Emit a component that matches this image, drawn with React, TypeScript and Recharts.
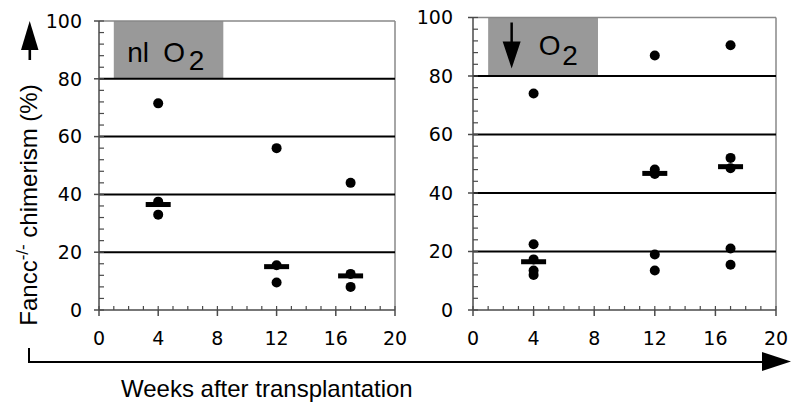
import React from 'react';
import { ScatterChart, Scatter, XAxis, YAxis, ReferenceLine, ReferenceArea } from 'recharts';

// axis ticks
const weekTicks = [0, 4, 8, 12, 16, 20];
const weekMinorTicks = [0, 1, 2, 3, 4, 5, 6, 7, 8, 9, 10, 11, 12, 13, 14, 15, 16, 17, 18, 19, 20];
const chimerismTicks = [0, 20, 40, 60, 80, 100];
const chimerismMinorTicks = [0, 4, 8, 12, 16, 20, 24, 28, 32, 36, 40, 44, 48, 52, 56, 60, 64, 68, 72, 76, 80, 84, 88, 92, 96, 100];
const gridLevels = [20, 40, 60, 80];

// time points where the medians are drawn
const medianWeeks = [4, 12, 17];

// normal oxygen
const normalWeeks = [4, 4, 4, 12, 12, 12, 17, 17, 17];
const normalChimerism = [71.5, 37.5, 33, 56, 15.5, 9.5, 44, 12.5, 8];
const normalMedian = [36.5, 15, 11.8];

// low oxygen
const lowWeeks = [4, 4, 4, 4, 4, 12, 12, 12, 12, 12, 17, 17, 17, 17, 17];
const lowChimerism = [74, 22.5, 17.3, 13.5, 12, 87, 48, 46.5, 19, 13.5, 90.5, 52, 48.5, 21, 15.5];
const lowMedian = [16.5, 46.7, 49];

const toPoints = (xs: number[], ys: number[]) => xs.map((x, i) => ({ week: x, value: ys[i] }));

const Dot = (p: any) => <circle cx={p.cx} cy={p.cy} r={5} fill="#000" />;
const MedianBar = (p: any) => <rect x={p.cx - 12.5} y={p.cy - 2.5} width={25} height={5} fill="#000" />;

const labelFont = '"Liberation Sans", Arial, sans-serif';
const tickStyle = { fontFamily: '"DejaVu Sans", Verdana, sans-serif', fontSize: '19px' };
const axisColor = '#4a4a4a';

// minor tick inward on every tick, major tick outward + label on the labelled ones
const WeekTick = ({ x, y, payload }: any) => {
  const major = weekTicks.includes(payload.value);
  return (
    <g>
      <line x1={x} y1={y} x2={x} y2={y - 4} stroke={axisColor} strokeWidth={1.2} />
      {major && <line x1={x} y1={y} x2={x} y2={y + 6} stroke={axisColor} strokeWidth={1.5} />}
      {major && (
        <text x={x} y={y + 35} textAnchor="middle" style={tickStyle} fill="#000">
          {payload.value}
        </text>
      )}
    </g>
  );
};

const makeChimerismTick = (gap: number) => ({ x, y, payload }: any) => {
  const major = chimerismTicks.includes(payload.value);
  return (
    <g>
      <line x1={x} y1={y} x2={x + 5} y2={y} stroke={axisColor} strokeWidth={1.2} />
      {major && <line x1={x} y1={y} x2={x - 5} y2={y} stroke={axisColor} strokeWidth={1.5} />}
      {major && (
        <text x={x - gap} y={y + 6.8} textAnchor="end" style={tickStyle} fill="#000">
          {payload.value}
        </text>
      )}
    </g>
  );
};

const NormalLabel = ({ viewBox }: any) => (
  <text x={viewBox.x + 13.5} y={viewBox.y + 40.7} style={{ fontFamily: labelFont, fontSize: '28px' }} fill="#000">
    nl
    <tspan x={viewBox.x + 49.5}>O</tspan>
    <tspan x={viewBox.x + 75} dy={8.3}>2</tspan>
  </text>
);

const LowLabel = ({ viewBox }: any) => {
  const x = viewBox.x;
  const y = viewBox.y;
  return (
    <g>
      <line x1={x + 23.5} y1={y + 5} x2={x + 23.5} y2={y + 28} stroke="#000" strokeWidth={2.5} />
      <polygon points={`${x + 14.5},${y + 24} ${x + 32.5},${y + 24} ${x + 23.5},${y + 51}`} fill="#000" />
      <text x={x + 50.5} y={y + 37.5} style={{ fontFamily: labelFont, fontSize: '28px' }} fill="#000">
        O
        <tspan x={x + 74} dy={10}>2</tspan>
      </text>
    </g>
  );
};

type PanelProps = {
  left: number;
  width: number;
  margin: { top: number; right: number; bottom: number; left: number };
  points: { week: number; value: number }[];
  medians: { week: number; value: number }[];
  boxEnd: number;
  label: React.ReactElement;
  labelGap: number;
};

const Panel = ({ left, width, margin, points, medians, boxEnd, label, labelGap }: PanelProps) => (
  <div style={{ position: 'absolute', left, top: 0 }}>
    <ScatterChart width={width} height={410} margin={margin}>
      <XAxis
        type="number"
        dataKey="week"
        domain={[0, 20]}
        ticks={weekMinorTicks}
        interval={0}
        height={40}
        tickSize={0}
        tickMargin={0}
        tick={<WeekTick />}
        tickLine={false}
        axisLine={{ stroke: axisColor, strokeWidth: 1.5 }}
      />
      <YAxis
        type="number"
        dataKey="value"
        domain={[0, 100]}
        ticks={chimerismMinorTicks}
        interval={0}
        width={60}
        tickSize={0}
        tickMargin={0}
        tick={makeChimerismTick(labelGap)}
        tickLine={false}
        axisLine={{ stroke: axisColor, strokeWidth: 1.5 }}
      />
      <ReferenceArea x1={1} x2={boxEnd} y1={80} y2={100} fill="#999" fillOpacity={1} stroke="none" label={label} />
      <ReferenceLine y={100} stroke="#888" strokeWidth={1.5} />
      <ReferenceLine x={20} stroke="#888" strokeWidth={1.5} />
      {gridLevels.map((g) => (
        <ReferenceLine key={g} y={g} stroke="#000" strokeWidth={2} />
      ))}
      <Scatter data={points} shape={Dot} isAnimationActive={false} />
      <Scatter data={medians} shape={MedianBar} isAnimationActive={false} />
    </ScatterChart>
  </div>
);

export default function App() {
  const normalPoints = toPoints(normalWeeks, normalChimerism);
  const normalMedians = toPoints(medianWeeks, normalMedian);
  const lowPoints = toPoints(lowWeeks, lowChimerism);
  const lowMedians = toPoints(medianWeeks, lowMedian);

  return (
    <div style={{ position: 'absolute', left: 0, top: 0, width: 800, height: 410, background: '#fff' }}>
      <Panel
        left={0}
        width={420}
        margin={{ top: 21, right: 25, bottom: 60, left: 39 }}
        points={normalPoints}
        medians={normalMedians}
        boxEnd={8.4}
        label={<NormalLabel />}
        labelGap={17}
      />
      <Panel
        left={400}
        width={400}
        margin={{ top: 17.5, right: 24, bottom: 60, left: 13 }}
        points={lowPoints}
        medians={lowMedians}
        boxEnd={8.25}
        label={<LowLabel />}
        labelGap={20}
      />
      <svg width={800} height={410} style={{ position: 'absolute', left: 0, top: 0, pointerEvents: 'none' }}>
        <polygon points="21,50 38.5,50 29.7,21" fill="#000" />
        <rect x={28.5} y={49} width={2.6} height={11} fill="#000" />
        <text
          x={37}
          y={205}
          transform="rotate(-90, 37, 205)"
          textAnchor="middle"
          style={{ fontFamily: labelFont, fontSize: '24px' }}
          fill="#000"
        >
          Fancc
          <tspan style={{ fontSize: '17px' }} dy={-9}>-/-</tspan>
          <tspan dy={9}> chimerism (%)</tspan>
        </text>
        <polyline points="29,348 29,362 765,362" fill="none" stroke="#000" strokeWidth={2} />
        <polygon points="762,352 762,371 791,361.5" fill="#000" />
        <text x={121} y={396.5} style={{ fontFamily: labelFont, fontSize: '24px' }} fill="#000">
          Weeks after transplantation
        </text>
      </svg>
    </div>
  );
}
